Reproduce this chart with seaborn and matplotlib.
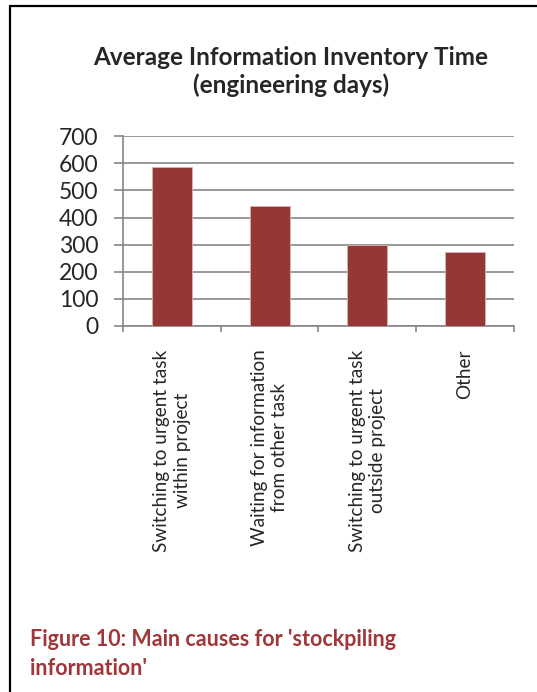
import numpy as np
import pandas as pd
import matplotlib
matplotlib.use("Agg")
import matplotlib.pyplot as plt
from matplotlib.lines import Line2D
import seaborn as sns

causes = ["Switching to urgent task\nwithin project",
          "Waiting for information\nfrom other task",
          "Switching to urgent task\noutside project",
          "Other"]
days = [587, 441, 297, 272]
yticks = [0, 100, 200, 300, 400, 500, 600, 700]

df = pd.DataFrame({"cause": causes, "days": days})

sns.set_style("white")
plt.rcParams['font.family'] = ['Lato', 'DejaVu Sans']

fig = plt.figure(figsize=(5.37, 6.92), dpi=100)
ax = fig.add_axes([0.229, 0.529, 0.728, 0.274])

sns.barplot(data=df, x="cause", y="days", color="#953735", width=0.41,
            saturation=1, edgecolor="#d9b3b3", linewidth=0.6, ax=ax, zorder=3)

ax.set_ylim(0, 700)
ax.set_xlim(-0.5, 3.5)
ax.set_yticks(yticks)
ax.set_yticklabels([str(t) for t in yticks], fontsize=16.5)
ax.yaxis.grid(True, color="#868686", linewidth=1.2, zorder=0)
ax.set_axisbelow(True)

# category ticks sit on the boundaries between bars
ax.set_xticks([0, 1, 2, 3])
ax.set_xticklabels(causes, rotation=90, fontsize=13.7, ha="center", va="top",
                   multialignment="center", linespacing=1.25)
ax.set_xticks([-0.5, 0.5, 1.5, 2.5, 3.5], minor=True)
ax.tick_params(axis="x", which="major", length=0, pad=17)
ax.tick_params(axis="x", which="minor", length=4, width=1.2, color="#868686",
               direction="out", bottom=True)
ax.tick_params(axis="y", length=6.5, width=1.2, color="#868686", direction="out",
               left=True, pad=11)
ax.set_xlabel("")
ax.set_ylabel("")

for side in ["top", "right"]:
    ax.spines[side].set_visible(False)
ax.spines["left"].set_color("#868686")
ax.spines["left"].set_linewidth(1.2)
ax.spines["bottom"].set_color("#868686")
ax.spines["bottom"].set_linewidth(1.2)

fig.text(0.542, 0.897, "Average Information Inventory Time\n(engineering days)",
         ha="center", va="center", fontsize=17.5, fontweight="bold",
         linespacing=1.2)

fig.text(0.056, 0.055, "Figure 10: Main causes for 'stockpiling\ninformation'",
         ha="left", va="center", fontsize=15.5, fontweight="bold",
         color="#a0373a", linespacing=1.45)

# frame around the figure block
fig.add_artist(Line2D([10 / 537, 10 / 537], [0, 1 - 6 / 692],
                      transform=fig.transFigure, color="black", linewidth=1.6))
fig.add_artist(Line2D([10 / 537, 1], [1 - 6 / 692, 1 - 6 / 692],
                      transform=fig.transFigure, color="black", linewidth=1.6))

fig.savefig("out.png", dpi=100)
